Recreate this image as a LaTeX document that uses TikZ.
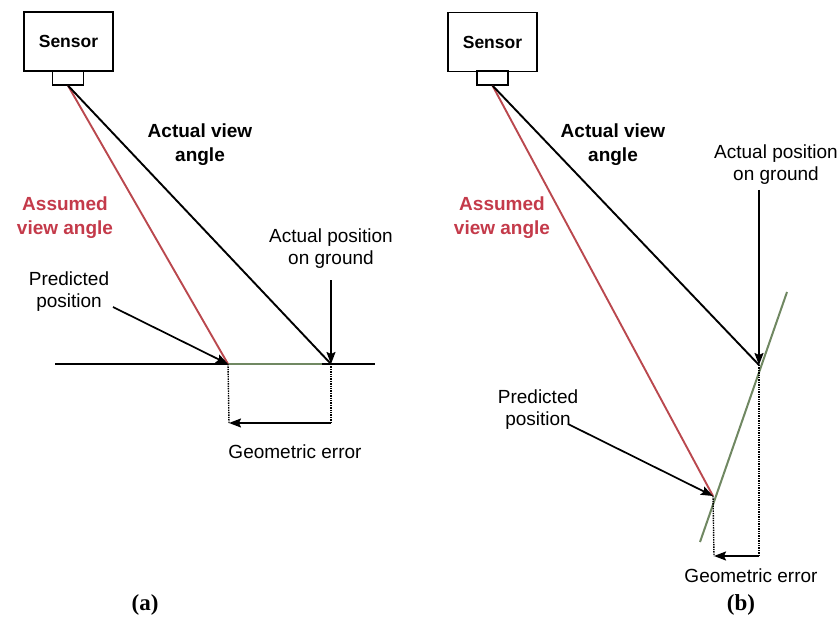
\documentclass[tikz,border=0pt]{standalone}
\usepackage{fontspec}
\setmainfont{Liberation Sans}
\newfontfamily\capfont{Liberation Serif}
\usetikzlibrary{arrows.meta}
\definecolor{assumedred}{RGB}{196,58,74}
\definecolor{rayred}{RGB}{186,72,78}
\definecolor{groundgreen}{RGB}{112,136,98}

\begin{document}
\begin{tikzpicture}[x=1pt,y=-1pt,
  sensorbox/.style={draw,line width=1.2pt,minimum width=89pt,minimum height=59pt,
    inner sep=0pt,font=\fontsize{17.5}{20}\selectfont\bfseries},
  lensbox/.style={draw,line width=1.2pt,minimum width=31pt,minimum height=14pt,inner sep=0pt},
  lbl/.style={align=center,inner sep=0pt,font=\fontsize{19}{22}\selectfont},
  blbl/.style={align=center,inner sep=0pt,font=\fontsize{19}{24}\selectfont\bfseries},
  panel/.style={inner sep=0pt,font=\fontsize{23}{26}\selectfont\capfont\bfseries},
  ray/.style={line width=1.9pt},
  ground/.style={line width=2pt},
  ptr/.style={line width=1.7pt,-{Stealth[length=12pt,width=9pt,inset=2pt]}},
  dimline/.style={line width=1.4pt,densely dotted},
]
\useasboundingbox (0,0) rectangle (838,628);

% ---------------- (a) flat ground ----------------
\node[sensorbox] (sa) at (68.5,41.5) {Sensor};
\node[lensbox] (la) at (68,78) {};

\coordinate (ga1) at (55,364);
\coordinate (ga2) at (375,364);
\coordinate (pa) at (228,364);
\coordinate (aa) at (331,364);
\coordinate (ea1) at (229,423);
\coordinate (ea2) at (331,423);
\coordinate (pra) at (113,307);

\draw[ground] (ga1) -- (ga2);
\draw[ground,groundgreen] (pa) -- (322,364);

\draw[ray,rayred] (la.south) -- (pa);
\draw[ray] (la.south) -- (aa);

\node[blbl] (ava) at (200,145) {Actual view\\angle};
\node[blbl,text=assumedred] (asa) at (65,218) {Assumed\\view angle};
\node[lbl] (pda) at (69,292) {Predicted\\position};
\node[lbl] (apa) at (331,249) {Actual position\\on ground};

\draw[ptr,shorten <=11pt] (apa.south) -- (aa);
\draw[ptr] (pra) -- (pa);

\draw[dimline] (pa) -- (ea1);
\draw[dimline] (aa) -- (ea2);
\draw[ptr] (ea2) -- (ea1);
\node[lbl] (gea) at (295,452) {Geometric error};
\node[panel] (capa) at (145,605) {(a)};

% ---------------- (b) sloped ground ----------------
\node[sensorbox] (sb) at (492.5,42) {Sensor};
\node[lensbox] (lb) at (492.5,78) {};

\coordinate (gb1) at (700,542);
\coordinate (gb2) at (787,292);
\coordinate (pb) at (713,496);
\coordinate (ab) at (759,365);
\coordinate (apb) at (759,190);
\coordinate (prb) at (568,424);
\coordinate (eb1) at (714,556);
\coordinate (eb2) at (759,556);

\draw[ground,groundgreen] (gb1) -- (gb2);

\draw[ray,rayred] (lb.south) -- (pb);
\draw[ray] (lb.south) -- (ab);

\node[blbl] (avb) at (613,145) {Actual view\\angle};
\node[blbl,text=assumedred] (asb) at (502,218) {Assumed\\view angle};
\node[lbl] (pdb) at (538,410) {Predicted\\position};
\node[lbl] (apb-l) at (776,165) {Actual position\\on ground};

\draw[ptr] (apb) -- (ab);
\draw[ptr] (prb) -- (pb);

\draw[dimline] (pb) -- (eb1);
\draw[dimline] (ab) -- (eb2);
\draw[ptr] (eb2) -- (eb1);
\node[lbl] (geb) at (751,576) {Geometric error};
\node[panel] (capb) at (741,605) {(b)};
\end{tikzpicture}
\end{document}
